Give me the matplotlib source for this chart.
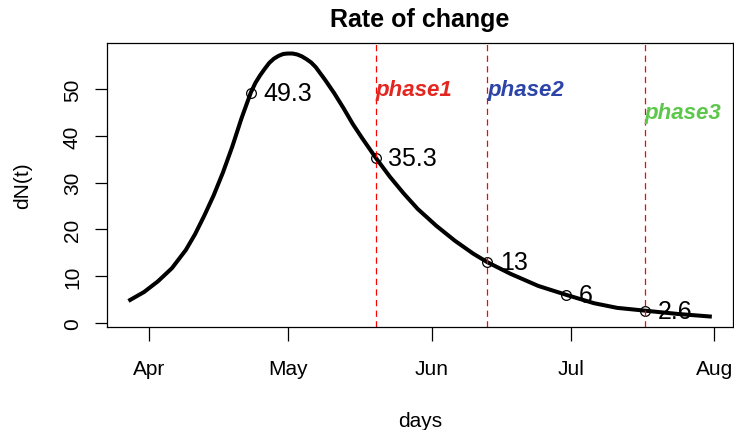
import matplotlib
matplotlib.use("Agg")
import matplotlib.pyplot as plt
import matplotlib.dates as mdates
import pandas as pd

plt.rcParams['font.family'] = ['Liberation Sans', 'DejaVu Sans']

# rate of change curve
days = ['2020-03-28', '2020-03-31', '2020-04-03', '2020-04-06', '2020-04-09',
        '2020-04-11', '2020-04-13', '2020-04-15', '2020-04-17', '2020-04-19',
        '2020-04-21', '2020-04-23', '2020-04-24', '2020-04-25', '2020-04-26',
        '2020-04-27', '2020-04-28', '2020-04-29', '2020-04-30', '2020-05-01',
        '2020-05-02', '2020-05-03', '2020-05-04', '2020-05-05', '2020-05-06',
        '2020-05-07', '2020-05-09', '2020-05-11', '2020-05-13', '2020-05-15',
        '2020-05-17', '2020-05-20', '2020-05-23', '2020-05-26', '2020-05-29',
        '2020-06-02', '2020-06-06', '2020-06-10', '2020-06-13', '2020-06-18',
        '2020-06-24', '2020-06-30', '2020-07-06', '2020-07-11', '2020-07-17',
        '2020-07-24', '2020-07-31']
dN = [4.9, 6.6, 8.9, 11.7, 15.6,
      19.0, 23.0, 27.3, 32.2, 37.7,
      43.8, 49.3, 51.4, 53.0, 54.4,
      55.7, 56.6, 57.2, 57.6, 57.7,
      57.7, 57.5, 57.1, 56.5, 55.8,
      54.8, 52.1, 49.2, 46.0, 42.6,
      39.6, 35.3, 31.3, 27.7, 24.4,
      20.8, 17.6, 14.8, 13.0, 10.5,
      7.9, 6.0, 4.2, 3.2, 2.6,
      1.9, 1.35]

# marked points
mark_days = ['2020-04-23', '2020-05-20', '2020-06-13', '2020-06-30', '2020-07-17']
mark_vals = [49.3, 35.3, 13, 6, 2.6]
mark_labels = ['49.3', '35.3', '13', '6', '2.6']

# phase boundaries
phase_days = ['2020-05-20', '2020-06-13', '2020-07-17']
phase_names = ['phase1', 'phase2', 'phase3']
phase_y = [50, 50, 45]
phase_colors = ['#E3261F', '#2C44A8', '#5DC74B']

x = pd.to_datetime(days)
xm = pd.to_datetime(mark_days)
xp = pd.to_datetime(phase_days)

fig = plt.figure(figsize=(7.34, 4.31), dpi=100)
ax = fig.add_axes([107/734, 1-328/431, (733-107)/734, (328-44)/431])

ax.plot(x, dN, color='black', lw=2.9, solid_joinstyle='round')
ax.plot(xm, mark_vals, 'o', mfc='none', mec='black', ms=7, mew=0.9)
for xi, v, lab in zip(xm, mark_vals, mark_labels):
    ax.annotate(lab, (xi, v), xytext=(9, 0), textcoords='offset points',
                ha='left', va='center', fontsize=18)

for xi, name, yv, c in zip(xp, phase_names, phase_y, phase_colors):
    ax.axvline(xi, color='red', lw=0.9, dashes=(5, 3.5))
    ax.text(xi, yv, name, color=c, fontsize=16, fontweight='bold',
            fontstyle='italic', ha='left', va='center')

# R style 4% padding
xn = mdates.date2num(x)
pad = 0.04 * (xn.max() - xn.min())
ax.set_xlim(xn.min() - pad, xn.max() + pad)
ypad = 0.04 * (max(dN) - min(dN))
ax.set_ylim(min(dN) - ypad, max(dN) + ypad)

ax.xaxis.set_major_locator(mdates.MonthLocator())
ax.xaxis.set_major_formatter(mdates.DateFormatter('%b'))
ax.set_yticks([0, 10, 20, 30, 40, 50])
ax.tick_params(axis='x', length=10, width=0.9, pad=13, labelsize=15)
ax.tick_params(axis='y', length=9, width=0.9, pad=9, labelsize=15,
               labelrotation=90)
for lab in ax.get_yticklabels():
    lab.set_va('center')
for s in ax.spines.values():
    s.set_linewidth(0.9)

ax.set_title('Rate of change', fontsize=18, fontweight='bold', pad=12)
ax.set_xlabel('days', fontsize=15, labelpad=24)
ax.set_ylabel('dN(t)', fontsize=15, labelpad=22)

fig.savefig('out.png', dpi=100)
